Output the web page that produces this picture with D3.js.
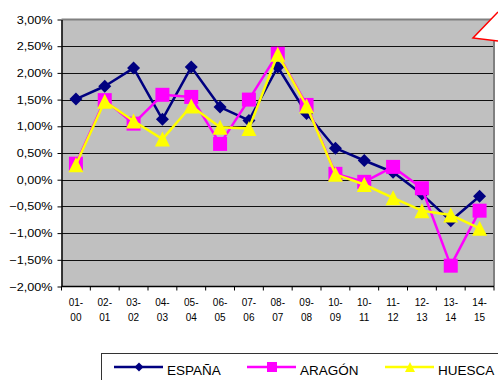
<!DOCTYPE html>
<html>
<head>
<meta charset="utf-8">
<script src="https://cdn.jsdelivr.net/npm/d3@7"></script>
<style>
  html, body { margin: 0; padding: 0; background: #fff; }
  svg { display: block; font-family: "Liberation Sans", Arial, sans-serif; }
</style>
</head>
<body>
<svg id="chart" width="498" height="380"></svg>
<script>
// Periods (as labelled on the axis)
const periods = ["01-00","02-01","03-02","04-03","05-04","06-05","07-06","08-07",
                 "09-08","10-09","10-11","11-12","12-13","13-14","14-15"];

// Annual variation, in percent
const espana = [1.51, 1.75, 2.09, 1.13, 2.11, 1.36, 1.11, 2.11, 1.24, 0.59, 0.36, 0.14, -0.27, -0.77, -0.31];
const aragon = [0.30, 1.49, 1.05, 1.59, 1.55, 0.67, 1.50, 2.36, 1.40, 0.11, -0.04, 0.24, -0.16, -1.61, -0.58];
const huesca = [0.28, 1.47, 1.10, 0.76, 1.38, 0.98, 0.96, 2.35, 1.38, 0.10, -0.09, -0.34, -0.58, -0.66, -0.91];

const yTicks = [-2, -1.5, -1, -0.5, 0, 0.5, 1, 1.5, 2, 2.5, 3];

const seriesNames = ["ESPAÑA", "ARAGÓN", "HUESCA"];
const seriesColors = ["#000080", "#ff00ff", "#ffff00"];
const seriesValues = [espana, aragon, huesca];

const svg = d3.select("#chart");
const plot = { left: 61.5, right: 494, top: 19.5, bottom: 286.5 };

const x = d3.scaleBand().domain(periods).range([plot.left, plot.right]).padding(0);
const y = d3.scaleLinear().domain([-2, 3]).range([plot.bottom, plot.top]);
const cx = i => x(periods[i]) + x.bandwidth() / 2;

// Plot background
svg.append("rect")
  .attr("x", plot.left).attr("y", plot.top)
  .attr("width", plot.right - plot.left).attr("height", plot.bottom - plot.top)
  .attr("fill", "#c0c0c0");

// Horizontal gridlines
svg.append("g").selectAll("line").data(yTicks.filter(d => d > -2 && d < 3)).join("line")
  .attr("x1", plot.left).attr("x2", plot.right)
  .attr("y1", d => Math.round(y(d)) + 0.5).attr("y2", d => Math.round(y(d)) + 0.5)
  .attr("stroke", "#111").attr("stroke-width", 1);

// Plot frame (top and right)
svg.append("path")
  .attr("d", `M${plot.left},${plot.top} H${plot.right} V${plot.bottom}`)
  .attr("fill", "none").attr("stroke", "#808080").attr("stroke-width", 2);

// Y axis (labels slightly widened)
const fmt = d => d3.format(".2f")(d).replace(".", ",") + "%";
const yAxis = svg.append("g")
  .attr("transform", `translate(${plot.left},0)`)
  .call(d3.axisLeft(y).tickValues(yTicks).tickFormat(fmt).tickSize(4).tickSizeOuter(0).tickPadding(5));
yAxis.select(".domain").attr("stroke", "#000").attr("stroke-width", 1.5);
yAxis.selectAll(".tick line").attr("stroke", "#000");
const yStretch = 1.15;
yAxis.selectAll("text")
  .attr("font-size", 11).attr("fill", "#000")
  .attr("font-family", "Liberation Sans, Arial, sans-serif")
  .attr("x", -9 / yStretch)
  .attr("transform", `scale(${yStretch},1)`);

// X axis with ticks between categories
const xAxisG = svg.append("g").attr("transform", `translate(0,${plot.bottom})`);
xAxisG.append("line")
  .attr("x1", plot.left).attr("x2", plot.right)
  .attr("stroke", "#000").attr("stroke-width", 1.5);
const bounds = periods.map(p => x(p)).concat([plot.right]);
xAxisG.selectAll("line.tk").data(bounds).join("line").attr("class", "tk")
  .attr("x1", d => d).attr("x2", d => d).attr("y1", 0).attr("y2", 4)
  .attr("stroke", "#000");
const xl = xAxisG.selectAll("text").data(periods).join("text")
  .attr("text-anchor", "middle").attr("font-size", 10).attr("fill", "#000");
xl.append("tspan").attr("x", d => x(d) + x.bandwidth() / 2).attr("y", 19).text(d => d.split("-")[0] + "-");
xl.append("tspan").attr("x", d => x(d) + x.bandwidth() / 2).attr("y", 34).text(d => d.split("-")[1]);

// Marker shapes (half-size h)
const diamond = h => `M0,${-h}L${h},0L0,${h}L${-h},0Z`;
const square = h => `M${-h},${-h}H${h}V${h}H${-h}Z`;
const triangle = h => `M0,${-h}L${h},${h}H${-h}Z`;
const shapes = [diamond, square, triangle];
const markerSize = [6.5, 7, 7.5];

const line = d3.line().x((d, i) => cx(i)).y(d => y(d));

seriesValues.forEach((vals, s) => {
  const g = svg.append("g");
  g.append("path").datum(vals)
    .attr("d", line).attr("fill", "none")
    .attr("stroke", seriesColors[s]).attr("stroke-width", 2.5)
    .attr("stroke-linejoin", "round");
  g.selectAll("path.m").data(vals).join("path").attr("class", "m")
    .attr("d", shapes[s](markerSize[s]))
    .attr("transform", (d, i) => `translate(${cx(i)},${y(d)})`)
    .attr("fill", seriesColors[s]);
});

// Callout shape in the corner
svg.append("path")
  .attr("d", "M498,12 L473,38 L498,41")
  .attr("fill", "#fff").attr("stroke", "#ff0000").attr("stroke-width", 1.5);

// Legend
const lg = svg.append("g");
lg.append("rect").attr("x", 101.5).attr("y", 353.5).attr("width", 420).attr("height", 40)
  .attr("fill", "#fff").attr("stroke", "#333").attr("stroke-width", 1);
const legendX = [114, 247, 385];
const legendMarker = [4.5, 5, 5];
seriesNames.forEach((name, s) => {
  const lx = legendX[s];
  lg.append("line").attr("x1", lx).attr("x2", lx + 49).attr("y1", 367).attr("y2", 367)
    .attr("stroke", seriesColors[s]).attr("stroke-width", 2.5);
  lg.append("path").attr("d", shapes[s](legendMarker[s]))
    .attr("transform", `translate(${lx + 25},367)`).attr("fill", seriesColors[s]);
  lg.append("text").attr("x", lx + 53).attr("y", 374.5)
    .attr("font-size", 13.5).attr("fill", "#000").text(name);
});
</script>
</body>
</html>
